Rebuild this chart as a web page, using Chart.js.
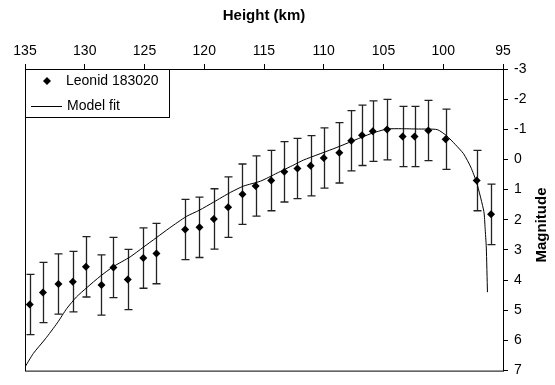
<!DOCTYPE html>
<html>
<head>
<meta charset="utf-8">
<script src="https://cdn.jsdelivr.net/npm/chart.js@4"></script>
<style>
  html, body { margin: 0; padding: 0; background: #fff; }
</style>
</head>
<body>
<canvas id="chartLeonid" width="555" height="385"></canvas>
<script>
// Leonid 183020 observations (height in km, magnitude, error)
const heights = [134.6, 133.5, 132.2, 131.0, 129.9, 128.6, 127.6, 126.4, 125.1, 124.0,
  121.6, 120.4, 119.2, 118.0, 116.8, 115.7, 114.4, 113.3, 112.2, 111.1,
  110.0, 108.7, 107.7, 106.8, 105.9, 104.7, 103.4, 102.4, 101.25, 99.8, 97.2, 96.0];
const magnitudes = [4.81, 4.41, 4.13, 4.05, 3.56, 4.16, 3.58, 3.98, 3.27, 3.12,
  2.32, 2.25, 1.97, 1.58, 1.15, 0.88, 0.70, 0.41, 0.30, 0.21,
  -0.05, -0.22, -0.62, -0.80, -0.94, -0.99, -0.76, -0.76, -0.96, -0.67, 0.70, 1.82];
const magErrors = [1, 1, 1, 1, 1, 1, 1, 1, 1, 1,
  1, 1, 1, 1, 1, 1, 1, 1, 1, 1,
  1, 1, 1, 1, 1, 1, 1, 1, 1, 1, 1, 1];

// model fit curve
const fitHeights = [135.1, 134.3, 133.3, 132.3, 131.5, 130.7, 129.8, 128.7, 127.6, 126.2,
  125.1, 124.0, 122.9, 121.5, 120.4, 119.2, 117.8, 116.7, 115.3, 113.9,
  112.5, 111.7, 108.9, 106.1, 104.7, 103.5, 102.2, 100.5, 99.7, 99.0,
  98.3, 97.7, 97.2, 96.6, 96.5, 96.4, 96.3];
const fitMagnitudes = [6.95, 6.43, 5.95, 5.42, 4.94, 4.56, 4.24, 3.87, 3.55, 3.23,
  2.91, 2.59, 2.27, 1.89, 1.68, 1.41, 1.09, 0.88, 0.72, 0.45,
  0.18, 0.02, -0.40, -0.85, -1.01, -1.02, -1.01, -0.99, -0.78, -0.50,
  -0.19, 0.25, 0.77, 1.73, 2.26, 2.90, 4.40];

const heightTicks = [135, 130, 125, 120, 115, 110, 105, 100, 95];
const magTicks = [-3, -2, -1, 0, 1, 2, 3, 4, 5, 6, 7];

const obsPoints = heights.map((h, i) => ({ x: h, y: magnitudes[i] }));
const fitPoints = fitHeights.map((h, i) => ({ x: h, y: fitMagnitudes[i] }));

Chart.defaults.font.family = "'Liberation Sans', Arial, sans-serif";
Chart.defaults.font.size = 14;
Chart.defaults.color = '#000';

const extras = {
  id: 'extras',
  beforeDatasetsDraw(chart) {
    const c = chart.ctx, xs = chart.scales.x, ys = chart.scales.y;
    c.save();
    c.strokeStyle = '#222';
    c.lineWidth = 1.3;
    heights.forEach((h, i) => {
      const px = Math.round(xs.getPixelForValue(h)) + 0.5;
      const y1 = ys.getPixelForValue(magnitudes[i] - magErrors[i]);
      const y2 = ys.getPixelForValue(magnitudes[i] + magErrors[i]);
      c.beginPath();
      c.moveTo(px, y1); c.lineTo(px, y2);
      c.moveTo(px - 4, y1); c.lineTo(px + 4, y1);
      c.moveTo(px - 4, y2); c.lineTo(px + 4, y2);
      c.stroke();
    });
    c.restore();
  },
  afterDraw(chart) {
    const c = chart.ctx, a = chart.chartArea;
    c.save();
    // plot box
    c.strokeStyle = '#000';
    c.lineWidth = 1;
    c.strokeRect(a.left + 0.5, a.top + 0.5, a.right - a.left, a.bottom - a.top);
    // legend
    c.fillStyle = '#fff';
    c.fillRect(a.left + 0.5, a.top + 0.5, 144, 48);
    c.strokeRect(a.left + 0.5, a.top + 0.5, 144, 48);
    c.fillStyle = '#000';
    c.beginPath();
    c.moveTo(47, 77); c.lineTo(51, 81); c.lineTo(47, 85); c.lineTo(43, 81);
    c.closePath(); c.fill();
    c.font = "14px 'Liberation Sans', Arial, sans-serif";
    c.textBaseline = 'middle';
    c.textAlign = 'left';
    c.fillText('Leonid 183020', 66, 81);
    c.beginPath();
    c.moveTo(31, 106.5); c.lineTo(62, 106.5); c.stroke();
    c.fillText('Model fit', 67, 106);
    // right axis title, reading upward
    c.translate(542, 225);
    c.rotate(-Math.PI / 2);
    c.textAlign = 'center';
    c.font = "bold 15px 'Liberation Sans', Arial, sans-serif";
    c.fillText('Magnitude', 0, 0);
    c.restore();
  }
};

new Chart(document.getElementById('chartLeonid'), {
  type: 'scatter',
  data: {
    datasets: [{
      label: 'Leonid 183020',
      data: obsPoints,
      pointStyle: 'rectRot',
      pointRadius: 4,
      pointHoverRadius: 4,
      backgroundColor: '#000',
      borderColor: '#000',
      borderWidth: 0
    }, {
      label: 'Model fit',
      type: 'line',
      data: fitPoints,
      showLine: true,
      borderColor: '#000',
      borderWidth: 1,
      pointRadius: 0,
      tension: 0.2,
      fill: false
    }]
  },
  options: {
    responsive: false,
    animation: false,
    layout: { padding: { left: 25, right: 0, top: 0, bottom: 4 } },
    plugins: { legend: { display: false }, tooltip: { enabled: false } },
    scales: {
      x: {
        type: 'linear',
        position: 'top',
        reverse: true,
        min: 95,
        max: 135,
        afterBuildTicks: s => { s.ticks = heightTicks.map(v => ({ value: v })); },
        afterFit: s => { s.height = 69; },
        grid: { drawOnChartArea: false, tickLength: 5, color: '#000' },
        border: { color: '#000' },
        ticks: { padding: 4, maxRotation: 0, autoSkip: false, color: '#000' },
        title: {
          display: true,
          text: 'Height (km)',
          font: { size: 15, weight: 'bold' },
          padding: { top: 7, bottom: 0 },
          color: '#000'
        }
      },
      y: {
        type: 'linear',
        position: 'right',
        reverse: true,
        min: -3,
        max: 7,
        afterBuildTicks: s => { s.ticks = magTicks.map(v => ({ value: v })); },
        afterFit: s => { s.width = 52; },
        grid: { drawOnChartArea: false, tickLength: 5, color: '#000' },
        border: { color: '#000' },
        ticks: { padding: 6, color: '#000' }
      }
    }
  },
  plugins: [extras]
});
</script>
</body>
</html>
